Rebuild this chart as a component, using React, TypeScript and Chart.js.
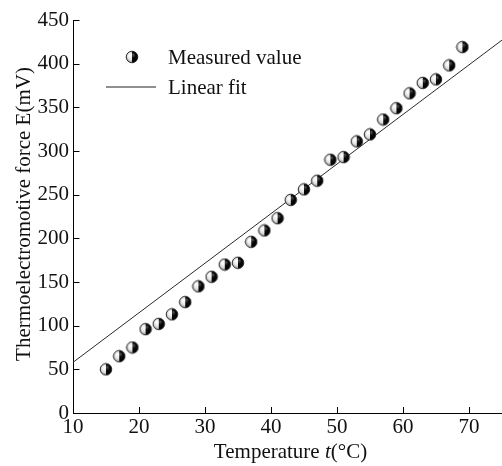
import { useEffect, useRef } from "react";
import { Chart, registerables } from "chart.js";

Chart.register(...registerables);

// ---- data ----
const temperatures = [15, 17, 19, 21, 23, 25, 27, 29, 31, 33, 35, 37, 39, 41, 43, 45, 47, 49, 51, 53, 55, 57, 59, 61, 63, 65, 67, 69];
const measuredValues = [50, 65, 75, 96, 102, 113, 127, 145, 156, 170, 172, 196, 209, 223, 244, 256, 266, 290, 293, 311, 319, 336, 349, 366, 378, 382, 398, 419];
const fitTemperatures = [10, 75];
const fitValues = [58, 427];

const xMin = 10;
const xMax = 75;
const xStep = 10;
const yMin = 0;
const yMax = 450;
const yStep = 50;

const legendLabels = ["Measured value", "Linear fit"];
const yTitle = "Thermoelectromotive force E(mV)";
const xTitleParts = ["Temperature ", "t", "(°C)"];

const FONT = '"Liberation Serif", "Times New Roman", serif';
const FONT_SIZE = 21;
const TEXT_COLOR = "#111111";

function makeMarker(): HTMLCanvasElement {
  const size = 14;
  const c = document.createElement("canvas");
  c.width = size;
  c.height = size;
  const ctx = c.getContext("2d")!;
  const cx = size / 2;
  const cy = size / 2;
  const r = 5.8;
  // left half (light)
  ctx.save();
  ctx.beginPath();
  ctx.arc(cx, cy, r, Math.PI / 2, (3 * Math.PI) / 2);
  ctx.closePath();
  const gl = ctx.createRadialGradient(cx - 2, cy - 2, 0.5, cx, cy, r);
  gl.addColorStop(0, "#ffffff");
  gl.addColorStop(0.6, "#e2e2e2");
  gl.addColorStop(1, "#8a8a8a");
  ctx.fillStyle = gl;
  ctx.fill();
  ctx.restore();
  // right half (dark)
  ctx.save();
  ctx.beginPath();
  ctx.arc(cx, cy, r, -Math.PI / 2, Math.PI / 2);
  ctx.closePath();
  const gd = ctx.createRadialGradient(cx + 1.5, cy - 2.5, 0.3, cx, cy, r);
  gd.addColorStop(0, "#555555");
  gd.addColorStop(0.4, "#0a0a0a");
  gd.addColorStop(1, "#000000");
  ctx.fillStyle = gd;
  ctx.fill();
  ctx.restore();
  // outline
  ctx.beginPath();
  ctx.arc(cx, cy, r, 0, Math.PI * 2);
  ctx.strokeStyle = "#222222";
  ctx.lineWidth = 0.9;
  ctx.stroke();
  return c;
}

export default function App() {
  const canvasRef = useRef<HTMLCanvasElement | null>(null);

  useEffect(() => {
    document.body.style.margin = "0";
    const canvas = canvasRef.current;
    if (!canvas) return;
    const marker = makeMarker();

    const decorPlugin = {
      id: "decor",
      afterDraw(chart: any) {
        const ctx: CanvasRenderingContext2D = chart.ctx;
        const area = chart.chartArea;
        const xs = chart.scales.x;
        const ys = chart.scales.y;
        ctx.save();
        // inward ticks
        ctx.strokeStyle = "#000";
        ctx.lineWidth = 1;
        ctx.beginPath();
        xs.ticks.forEach((t: any) => {
          const px = Math.round(xs.getPixelForValue(t.value)) + 0.5;
          ctx.moveTo(px, area.bottom);
          ctx.lineTo(px, area.bottom - 6);
        });
        ys.ticks.forEach((t: any) => {
          const py = Math.round(ys.getPixelForValue(t.value)) + 0.5;
          ctx.moveTo(area.left, py);
          ctx.lineTo(area.left + 6.5, py);
        });
        ctx.stroke();

        ctx.fillStyle = TEXT_COLOR;
        const normal = `${FONT_SIZE}px ${FONT}`;
        const italic = `italic ${FONT_SIZE}px ${FONT}`;
        // legend
        ctx.font = normal;
        ctx.textAlign = "left";
        ctx.textBaseline = "alphabetic";
        ctx.drawImage(marker, 132 - marker.width / 2, 57 - marker.height / 2);
        ctx.fillText(legendLabels[0], 168, 63.5);
        ctx.beginPath();
        ctx.strokeStyle = "#6a6a6a";
        ctx.lineWidth = 1.6;
        ctx.moveTo(106, 87);
        ctx.lineTo(156, 87);
        ctx.stroke();
        ctx.fillText(legendLabels[1], 168, 93.5);

        // y title
        ctx.save();
        ctx.translate(30, 214);
        ctx.rotate(-Math.PI / 2);
        ctx.textAlign = "center";
        ctx.fillText(yTitle, 0, 0);
        ctx.restore();

        // x title with italic t
        ctx.font = normal;
        const w0 = ctx.measureText(xTitleParts[0]).width;
        const w2 = ctx.measureText(xTitleParts[2]).width;
        ctx.font = italic;
        const w1 = ctx.measureText(xTitleParts[1]).width;
        const total = w0 + w1 + w2;
        let x = 290.5 - total / 2;
        const yb = 458;
        ctx.font = normal;
        ctx.fillText(xTitleParts[0], x, yb);
        x += w0;
        ctx.font = italic;
        ctx.fillText(xTitleParts[1], x, yb);
        x += w1;
        ctx.font = normal;
        ctx.fillText(xTitleParts[2], x, yb);
        ctx.restore();
      },
    };

    const chart = new Chart(canvas, {
      type: "scatter",
      data: {
        datasets: [
          {
            label: legendLabels[0],
            data: temperatures.map((t, i) => ({ x: t, y: measuredValues[i] })),
            pointStyle: marker as any,
            pointRadius: 5.5,
            showLine: false,
            order: 1,
          },
          {
            label: legendLabels[1],
            data: fitTemperatures.map((t, i) => ({ x: t, y: fitValues[i] })),
            showLine: true,
            borderColor: "#2a2a2a",
            borderWidth: 1,
            pointRadius: 0,
            order: 2,
          },
        ],
      },
      options: {
        animation: false,
        responsive: false,
        devicePixelRatio: 1,
        layout: { autoPadding: false, padding: { top: 20, right: 0, left: 0, bottom: 0 } },
        plugins: {
          legend: { display: false },
          tooltip: { enabled: false },
        },
        scales: {
          x: {
            type: "linear",
            min: xMin,
            max: xMax,
            afterFit: (s: any) => {
              s.height = 53;
              s.paddingLeft = 0;
              s.paddingRight = 0;
            },
            ticks: {
              stepSize: xStep,
              includeBounds: false,
              padding: 2,
              color: TEXT_COLOR,
              font: { family: FONT, size: FONT_SIZE },
            },
            grid: { display: true, drawOnChartArea: false, drawTicks: false },
            border: { display: true, color: "#000", width: 1 },
          },
          y: {
            type: "linear",
            min: yMin,
            max: yMax,
            afterFit: (s: any) => {
              s.width = 73;
              s.paddingTop = 0;
              s.paddingBottom = 0;
            },
            ticks: {
              stepSize: yStep,
              padding: 4,
              color: TEXT_COLOR,
              font: { family: FONT, size: FONT_SIZE },
            },
            grid: { display: true, drawOnChartArea: false, drawTicks: false },
            border: { display: true, color: "#000", width: 1 },
          },
        },
      },
      plugins: [decorPlugin],
    });

    return () => {
      chart.destroy();
    };
  }, []);

  return (
    <div style={{ width: 502, height: 466, background: "#fff" }}>
      <canvas ref={canvasRef} width={502} height={466} />
    </div>
  );
}
